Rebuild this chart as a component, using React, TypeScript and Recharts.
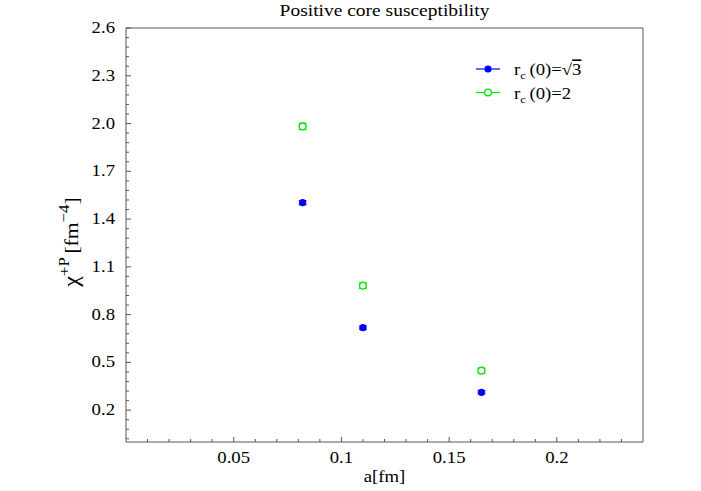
import React from "react";
import { ScatterChart, Scatter, XAxis, YAxis, ErrorBar } from "recharts";

// lattice spacing a[fm]
const aSpacing = [0.082, 0.11, 0.165];
// r_c(0)=sqrt(3)
const chiSqrt3 = [1.503, 0.718, 0.312];
const errSqrt3 = [0.012, 0.01, 0.01];
// r_c(0)=2
const chiTwo = [1.982, 0.982, 0.448];
const errTwo = [0.02, 0.018, 0.016];

const xMajor = [0.05, 0.1, 0.15, 0.2];
const yMajor = [0.2, 0.5, 0.8, 1.1, 1.4, 1.7, 2.0, 2.3, 2.6];

const xTicks: number[] = [];
for (let k = 1; k <= 23; k++) xTicks.push(+(k * 0.01).toFixed(2));
const yTicks: number[] = [];
for (let k = 0; k <= 43; k++) yTicks.push(+(0.02 + k * 0.06).toFixed(2));

const sqrt3Data = aSpacing.map((a, i) => ({ a, chi: chiSqrt3[i], err: errSqrt3[i] }));
const twoData = aSpacing.map((a, i) => ({ a, chi: chiTwo[i], err: errTwo[i] }));

const BLUE = "#0000ff";
const GREEN = "#00e800";
const FONT = "'Liberation Serif', 'Times New Roman', serif";
const AXIS = "#555";
const STRETCH = 1.17; // the reference glyphs are a bit wide

const isMajor = (v: number, list: number[]) => list.some((m) => Math.abs(m - v) < 1e-6);

// text stretched horizontally like the reference
const SText = ({ x, y, anchor = "start", size = 16, children }: any) => (
  <text
    transform={`translate(${x},${y}) scale(${STRETCH},1)`}
    textAnchor={anchor}
    fontSize={size}
    fontFamily={FONT}
    fill="#000"
  >
    {children}
  </text>
);

const makeTick = (side: "bottom" | "top" | "left" | "right") => (p: any) => {
  const v = p.payload.value;
  const major = isMajor(v, side === "bottom" || side === "top" ? xMajor : yMajor);
  const len = major ? 5 : 3;
  const { x, y } = p;
  if (side === "bottom")
    return (
      <g>
        <line x1={x} x2={x} y1={y} y2={y - len} stroke={AXIS} />
        {major && (
          <SText x={x} y={y + 21} anchor="middle">
            {String(v)}
          </SText>
        )}
      </g>
    );
  if (side === "top") return <line x1={x} x2={x} y1={y} y2={y + len} stroke={AXIS} />;
  if (side === "right") return <line x1={x} x2={x - len} y1={y} y2={y} stroke={AXIS} />;
  return (
    <g>
      <line x1={x} x2={x + len} y1={y} y2={y} stroke={AXIS} />
      {major && (
        <SText x={x - 11} y={y + 5} anchor="end">
          {v.toFixed(1)}
        </SText>
      )}
    </g>
  );
};

const Filled = (p: any) => <circle cx={p.cx} cy={p.cy} r={3.6} fill={BLUE} />;
const Open = (p: any) => <circle cx={p.cx} cy={p.cy} r={3.4} fill="#fff" stroke={GREEN} strokeWidth={1.4} />;

const legendRows = [
  { color: BLUE, filled: true, tail: "3", head: "(0)=\u221A" },
  { color: GREEN, filled: false, tail: "", head: "(0)=2" },
];

function LegendBox() {
  return (
    <svg width={150} height={50} style={{ display: "block" }}>
      {legendRows.map((r, i) => {
        const cy = 14 + i * 23.5;
        return (
          <g key={i}>
            <line x1={6} x2={30} y1={cy} y2={cy} stroke={r.color} strokeWidth={1.2} />
            {r.filled ? (
              <circle cx={18} cy={cy} r={3.6} fill={r.color} />
            ) : (
              <circle cx={18} cy={cy} r={3.4} fill="#fff" stroke={r.color} strokeWidth={1.4} />
            )}
            <SText x={44} y={cy + 6}>
              r
              <tspan fontSize={11} dy={4}>c</tspan>
              <tspan dy={-4} dx={3}>{r.head}</tspan>
              {r.tail && <tspan style={{ textDecoration: "overline" }}>{r.tail}</tspan>}
            </SText>
          </g>
        );
      })}
    </svg>
  );
}

const YLabel = (p: any) => {
  const vb = p.viewBox || {};
  const cx = 78;
  const cy = (vb.y ?? 28) + (vb.height ?? 414) / 2 + 7;
  return (
    <text
      transform={`translate(${cx},${cy}) rotate(-90) scale(1.2,1.1)`}
      textAnchor="middle"
      fontSize={18}
      fontFamily={FONT}
      fill="#000"
    >
      <tspan fontSize={20}>{"\u03C7"}</tspan>
      <tspan fontSize={14} dy={-8}>+P</tspan>
      <tspan dy={8} dx={3}>[fm</tspan>
      <tspan fontSize={14} dy={-8}>{"\u2212"}4</tspan>
      <tspan dy={8}>]</tspan>
    </text>
  );
};

const XLabel = (p: any) => {
  const vb = p.viewBox || {};
  const cx = (vb.x ?? 126) + (vb.width ?? 517) / 2;
  const y = (vb.y ?? 442) + 40;
  return (
    <SText x={cx} y={y} anchor="middle">
      a[fm]
    </SText>
  );
};

export default function App() {
  return (
    <div style={{ position: "absolute", left: 0, top: 0, width: 701, height: 491, background: "#fff" }}>
      <div
        style={{
          position: "absolute",
          left: 126,
          top: 1,
          width: 517,
          textAlign: "center",
          fontFamily: FONT,
          fontSize: 16.5,
          color: "#000",
          transform: "scaleX(1.18)",
          transformOrigin: "center",
        }}
      >
        Positive core susceptibility
      </div>
      <ScatterChart width={701} height={491} margin={{ top: 27, right: 57, bottom: 0, left: 0 }}>
        <XAxis
          xAxisId="b"
          dataKey="a"
          type="number"
          domain={[0, 0.24]}
          ticks={xTicks}
          interval={0}
          tickSize={0}
          tickMargin={0}
          tickLine={false}
          tick={makeTick("bottom")}
          axisLine={{ stroke: AXIS }}
          height={49}
          label={<XLabel />}
        />
        <XAxis
          xAxisId="t"
          orientation="top"
          type="number"
          domain={[0, 0.24]}
          ticks={xTicks}
          interval={0}
          tickSize={0}
          tickMargin={0}
          tickLine={false}
          tick={makeTick("top")}
          axisLine={{ stroke: AXIS }}
          height={1}
        />
        <YAxis
          yAxisId="l"
          dataKey="chi"
          type="number"
          domain={[0, 2.6]}
          ticks={yTicks}
          interval={0}
          tickSize={0}
          tickMargin={0}
          tickLine={false}
          tick={makeTick("left")}
          axisLine={{ stroke: AXIS }}
          width={126}
          label={<YLabel />}
        />
        <YAxis
          yAxisId="r"
          orientation="right"
          type="number"
          domain={[0, 2.6]}
          ticks={yTicks}
          interval={0}
          tickSize={0}
          tickMargin={0}
          tickLine={false}
          tick={makeTick("right")}
          axisLine={{ stroke: AXIS }}
          width={1}
        />
        <Scatter name="sqrt3" data={sqrt3Data} xAxisId="b" yAxisId="l" shape={Filled} isAnimationActive={false}>
          <ErrorBar dataKey="err" direction="y" width={4} stroke={BLUE} strokeWidth={1} />
        </Scatter>
        <Scatter name="two" data={twoData} xAxisId="b" yAxisId="l" shape={Open} isAnimationActive={false}>
          <ErrorBar dataKey="err" direction="y" width={4} stroke={GREEN} strokeWidth={1} />
        </Scatter>
      </ScatterChart>
      <div style={{ position: "absolute", left: 470, top: 55 }}>
        <LegendBox />
      </div>
    </div>
  );
}
